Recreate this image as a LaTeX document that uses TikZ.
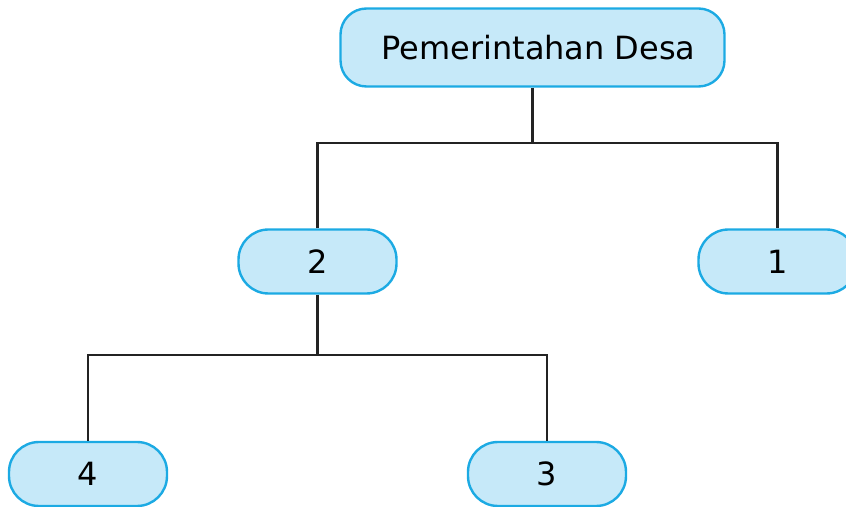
\documentclass[tikz,border=0pt]{standalone}
\usepackage{fontspec}
\setmainfont{DejaVu Sans}
\definecolor{boxfill}{RGB}{198,233,249}
\definecolor{boxline}{RGB}{28,170,227}
\definecolor{linkgray}{RGB}{35,35,35}
\begin{document}
\begin{tikzpicture}[x=0.5pt,y=-0.5pt,
    unit/.style={draw=boxline, fill=boxfill, line width=1.2pt,
      minimum width=79pt, minimum height=32pt, rounded corners=15pt,
      inner sep=0pt, font=\fontsize{16}{19}\selectfont},
    head/.style={unit, minimum width=192pt, minimum height=39pt, rounded corners=13pt},
    link/.style={linkgray, line width=1.1pt}]
    \useasboundingbox (0,0) rectangle (846,507);

    \node[head] (desa) at (532.5,47.5) {\hspace{6pt}Pemerintahan Desa};
    \node[unit] (n2) at (317.5,261.5) {2};
    \node[unit] (n1) at (777.5,261.5) {1};
    \node[unit] (n4) at (88,474) {4};
    \node[unit] (n3) at (547,474) {3};

    \coordinate (bar1) at (0,143);
    \coordinate (bar2) at (0,355);

    \draw[link] (desa.south) -- (desa.south |- bar1);
    \draw[link] (n2.north) |- (bar1 -| n1.north) -- (n1.north);
    \draw[link] (n2.south) -- (n2.south |- bar2);
    \draw[link] (n4.north) |- (bar2 -| n3.north) -- (n3.north);
  \end{tikzpicture}
\end{document}
